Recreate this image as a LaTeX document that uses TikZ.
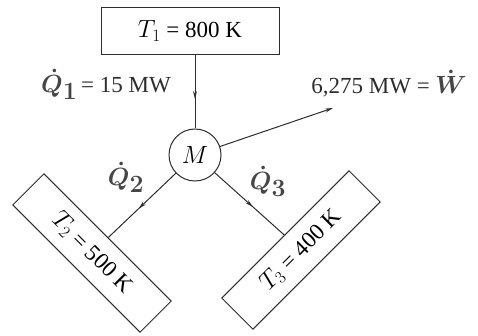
\documentclass[tikz,border=0pt]{standalone}
\usepackage{amsmath,amssymb}
\usepackage{fontspec}
\setmainfont{Liberation Serif}
\usepackage{tikz}
\usetikzlibrary{arrows.meta,positioning,decorations.markings}
\definecolor{inkline}{RGB}{45,45,45}
\definecolor{handink}{RGB}{70,70,70}

\begin{document}
\begin{tikzpicture}[x=1pt, y=-1pt, font=\fontsize{23}{26}\selectfont, >={Stealth[length=8pt,width=4pt]},
  res/.style={draw=inkline, line width=1pt, minimum width=180pt, minimum height=44pt, inner sep=0pt},
  eng/.style={draw=inkline, line width=1pt, circle, minimum size=52pt, inner sep=0pt},
  flow/.style={draw=inkline, line width=1pt},
  midarrow/.style={postaction={decorate, decoration={markings, mark=at position #1 with {\arrow{Stealth[length=8pt,width=4pt]}}}}},
  hand/.style={text=handink, inner sep=0pt, font=\fontsize{36}{38}\selectfont\boldmath},
  lbl/.style={text=inkline, inner sep=0pt}]
  \useasboundingbox (0,0) rectangle (478,336);
  % reservoirs and engine
  \node[res, minimum width=178pt, minimum height=47pt] (t1) at (190,31) {$T_1$ = 800 K};
  \node[eng] (m) at (195,155) {$M$};
  \node[res, rotate=-45] (t2) at (92,253) {$T_2$ = 500 K};
  \node[res, rotate=45] (t3) at (301,250) {$T_3$ = 400 K};
  \coordinate (w) at (333,108);
  % heat and work flows
  \draw[flow, midarrow=0.6] (m |- t1.south) -- (m);
  \draw[flow, ->] (m) -- (w);
  \draw[flow, midarrow=0.55] (m) -- (t2);
  \draw[flow, midarrow=0.55] (m) -- (t3);
  % labels
  \node[lbl] (q1) at (106,84) {{\fontsize{36}{38}\selectfont\boldmath\color{handink}$\dot{Q}_1$}\,= 15 MW};
  \node[lbl] (wl) at (389,84) {6,275 MW = {\fontsize{36}{38}\selectfont\boldmath\color{handink}$\dot{W}$}};
  \node[hand] (q2) at (126,177) {$\dot{Q}_2$};
  \node[hand] (q3) at (268,181) {$\dot{Q}_3$};
\end{tikzpicture}
\end{document}
